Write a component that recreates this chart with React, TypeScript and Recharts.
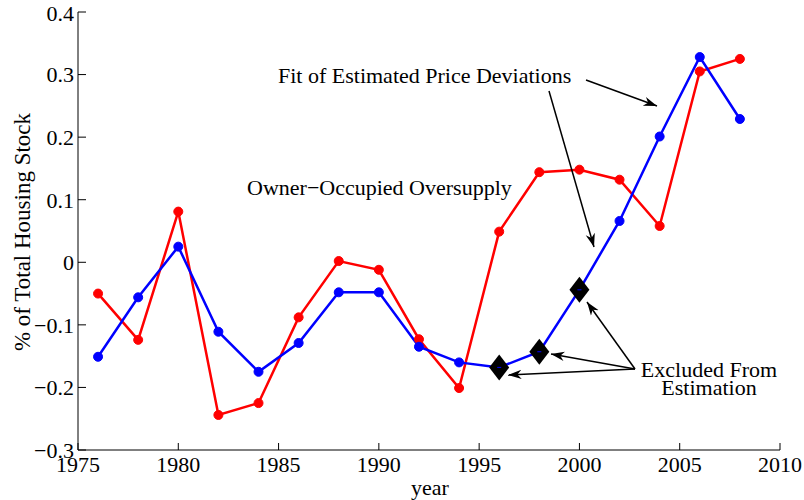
import { LineChart, Line, XAxis, YAxis } from "recharts";

const years = [1976, 1978, 1980, 1982, 1984, 1986, 1988, 1990, 1992, 1994, 1996, 1998, 2000, 2002, 2004, 2006, 2008];
const oversupply = [-0.05, -0.124, 0.081, -0.244, -0.225, -0.088, 0.002, -0.012, -0.123, -0.201, 0.049, 0.144, 0.148, 0.132, 0.058, 0.305, 0.325];
const fitted = [-0.151, -0.056, 0.025, -0.111, -0.175, -0.129, -0.048, -0.048, -0.135, -0.16, -0.168, -0.143, -0.044, 0.066, 0.201, 0.328, 0.229];
const excludedYears = [1996, 1998, 2000];
const xTicks = [1975, 1980, 1985, 1990, 1995, 2000, 2005, 2010];
const yTicks = [-0.3, -0.2, -0.1, 0, 0.1, 0.2, 0.3, 0.4];

const rows = years.map((year, i) => ({
  year,
  oversupply: oversupply[i],
  fitted: fitted[i],
  excluded: excludedYears.includes(year) ? fitted[i] : null,
}));

const FONT = "'Liberation Serif', 'Times New Roman', serif";
const fmtY = (v: number) => (v === 0 ? "0" : String(v).replace("-", "\u2212"));

const Diamond = (props: any) => {
  const { cx, cy, value } = props;
  if (value == null || cx == null || cy == null) return null;
  return (
    <g>
      <path d={`M${cx},${cy - 13} L${cx + 10},${cy} L${cx},${cy + 13} L${cx - 10},${cy} Z`} fill="#000" />
      <line x1={cx - 2} x2={cx + 2} y1={cy} y2={cy} stroke="#0000ff" strokeWidth={1} />
    </g>
  );
};

// annotation arrows, page pixels
const arrows = [
  [586, 80, 657, 106],
  [549, 91, 594, 247],
  [635, 369, 587, 302],
  [635, 369, 551, 354],
  [635, 369, 508, 375],
];

export default function App() {
  return (
    <div style={{ position: "fixed", left: 0, top: 0, width: 804, height: 500, background: "#fff" }}>
      <LineChart width={804} height={500} data={rows} margin={{ top: 12, right: 24, bottom: 20, left: 18 }}>
        <XAxis
          dataKey="year"
          type="number"
          domain={[1975, 2010]}
          ticks={xTicks}
          height={30}
          tickSize={-7}
          tickMargin={13}
          axisLine={{ stroke: "#000" }}
          tickLine={{ stroke: "#000" }}
          tick={{ fill: "#000", fontSize: 22, fontFamily: FONT }}
        />
        <YAxis
          type="number"
          domain={[-0.3, 0.4]}
          ticks={yTicks}
          width={60}
          tickSize={-8}
          tickMargin={12}
          tickFormatter={fmtY}
          axisLine={{ stroke: "#000" }}
          tickLine={{ stroke: "#000" }}
          tick={{ fill: "#000", fontSize: 22, fontFamily: FONT }}
        />
        <Line dataKey="oversupply" stroke="#ff0000" strokeWidth={2.5} dot={{ r: 4.5, fill: "#ff0000", stroke: "#ff0000", strokeWidth: 1 }} isAnimationActive={false} />
        <Line dataKey="fitted" stroke="#0000ff" strokeWidth={2.5} dot={{ r: 4.5, fill: "#0000ff", stroke: "#0000ff", strokeWidth: 1 }} isAnimationActive={false} />
        <Line dataKey="excluded" stroke="none" dot={<Diamond />} activeDot={false} isAnimationActive={false} />
      </LineChart>
      <svg width={804} height={500} style={{ position: "absolute", left: 0, top: 0, pointerEvents: "none" }}>
        <defs>
          <marker id="arr" viewBox="0 0 10 10" refX="10" refY="5" markerWidth="9" markerHeight="9" orient="auto">
            <path d="M0,1.5 L10,5 L0,8.5 L3,5 Z" fill="#000" />
          </marker>
        </defs>
        {arrows.map(([x1, y1, x2, y2], i) => (
          <line key={i} x1={x1} y1={y1} x2={x2} y2={y2} stroke="#000" strokeWidth={1.5} markerEnd="url(#arr)" />
        ))}
        <g fontFamily={FONT} fontSize={22} fill="#000">
          <text x={278} y={83}>Fit of Estimated Price Deviations</text>
          <text x={247} y={195}>Owner{"\u2212"}Occupied Oversupply</text>
          <text x={709} y={377} textAnchor="middle">Excluded From</text>
          <text x={709} y={395} textAnchor="middle">Estimation</text>
          <text x={430} y={495} textAnchor="middle">year</text>
          <text x={0} y={0} fontSize={23} textAnchor="middle" transform="translate(30,232) rotate(-90)">% of Total Housing Stock</text>
        </g>
      </svg>
    </div>
  );
}
